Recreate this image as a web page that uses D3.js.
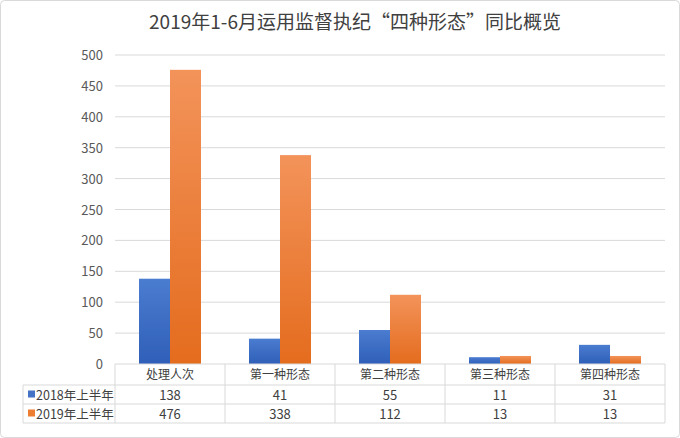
<!DOCTYPE html><html><head><meta charset="utf-8"><script src="https://cdn.jsdelivr.net/npm/d3@7"></script>
<style>body{margin:0;background:#fff}svg{font-family:"Microsoft YaHei","Noto Sans CJK SC",sans-serif}</style></head><body><svg width="680" height="438"></svg><script>
const categories=["处理人次","第一种形态","第二种形态","第三种形态","第四种形态"];
const seriesNames=["2018年上半年","2019年上半年"];
const values2018=[138,41,55,11,31];
const values2019=[476,338,112,13,13];
const yTicks=[0,50,100,150,200,250,300,350,400,450,500];
const svg=d3.select("svg");
svg.append("rect").attr("x",0.5).attr("y",0.5).attr("width",679).attr("height",437).attr("rx",4).attr("fill","#fff").attr("stroke","#d9d9d9");
svg.append("text").attr("x",355).attr("y",29).attr("text-anchor","middle").attr("font-size",19).attr("fill","#404040").text("2019年1-6月运用监督执纪“四种形态”同比概览");
const L=115,R=665,T=55,B=364;
const x=d3.scaleBand().domain(categories).range([L,R]);
const y=d3.scaleLinear().domain([0,500]).range([B,T]);
const defs=svg.append("defs");
[["g0","#4a7cd0","#2f5fb8"],["g1","#f3935a","#e46c1e"]].forEach(([id,a,b])=>{const g=defs.append("linearGradient").attr("id",id).attr("x1",0).attr("x2",0).attr("y1",0).attr("y2",1);g.append("stop").attr("offset",0).attr("stop-color",a);g.append("stop").attr("offset",1).attr("stop-color",b);});
svg.append("g").selectAll("line").data(yTicks.slice(1)).join("line").attr("x1",L).attr("x2",R).attr("y1",d=>y(d)).attr("y2",d=>y(d)).attr("stroke","#d9d9d9");
svg.append("g").selectAll("text").data(yTicks).join("text").attr("x",103).attr("y",d=>y(d)+5).attr("text-anchor","end").attr("font-size",13).attr("fill","#595959").text(d=>d);
const bw=31;
[values2018,values2019].forEach((vals,si)=>{
svg.append("g").selectAll("rect").data(vals).join("rect").attr("x",(d,i)=>x(categories[i])+x.bandwidth()/2-bw+si*bw).attr("width",bw).attr("y",d=>y(d)).attr("height",d=>B-y(d)).attr("fill",`url(#g${si})`);
});
// table
const rows=[B,385,404,423];
const tg=svg.append("g").attr("stroke","#d9d9d9");
rows.forEach((ry,i)=>tg.append("line").attr("x1",i==0?L:23).attr("x2",R).attr("y1",ry).attr("y2",ry));
tg.append("line").attr("x1",23).attr("x2",23).attr("y1",385).attr("y2",423);
categories.forEach(c=>tg.append("line").attr("x1",x(c)).attr("x2",x(c)).attr("y1",B).attr("y2",423));
tg.append("line").attr("x1",R).attr("x2",R).attr("y1",B).attr("y2",423);
svg.append("g").selectAll("text").data(categories).join("text").attr("x",d=>x(d)+x.bandwidth()/2).attr("y",379).attr("text-anchor","middle").attr("font-size",12).attr("fill","#404040").text(d=>d);
[values2018,values2019].forEach((vals,si)=>{
const cy=rows[si+1]+14.5;
svg.append("rect").attr("x",28).attr("y",cy-9).attr("width",7).attr("height",7).attr("fill",si?"#ed7d31":"#4472c4");
svg.append("text").attr("x",36).attr("y",cy).attr("font-size",12.5).attr("fill","#404040").text(seriesNames[si]);
svg.append("g").selectAll("text").data(vals).join("text").attr("x",(d,i)=>x(categories[i])+x.bandwidth()/2).attr("y",cy).attr("text-anchor","middle").attr("font-size",13).attr("fill","#404040").text(d=>d);
});
</script></body></html>
